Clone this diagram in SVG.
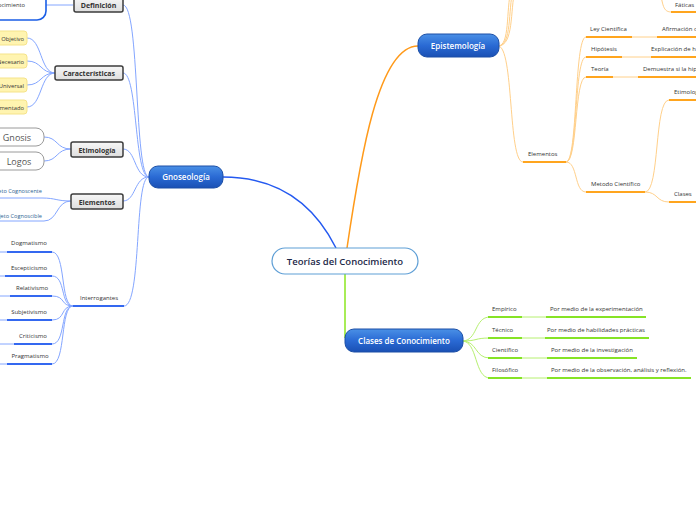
<svg xmlns="http://www.w3.org/2000/svg" width="696" height="520" viewBox="0 0 696 520">
<defs>
<linearGradient id="gBlue" x1="0" y1="0" x2="0" y2="1">
<stop offset="0" stop-color="#4a90e6"/><stop offset="0.5" stop-color="#2a6ad4"/><stop offset="1" stop-color="#1a50b4"/>
</linearGradient>
<linearGradient id="gGrey" x1="0" y1="0" x2="0" y2="1">
<stop offset="0" stop-color="#f7f7f7"/><stop offset="1" stop-color="#dedede"/>
</linearGradient>
<style>
.t{font-family:"Open Sans","Noto Sans","Liberation Sans",sans-serif}
.pill{fill:url(#gBlue);stroke:#1c4fa6;stroke-width:1}
.pt{font-size:8px;fill:#fff;font-weight:600;text-anchor:middle}
.grey{fill:url(#gGrey);stroke:#3c3c3c;stroke-width:1.5}
.gt{font-size:7px;font-weight:700;fill:#333;text-anchor:middle}
.sm{font-size:6px;fill:#333}
.yl{fill:#fff4b0;stroke:#f5e38a;stroke-width:1}
.cb{fill:none;stroke:#84a6ff;stroke-width:1}
.co{fill:none;stroke:#ffd08a;stroke-width:1}
.cg{fill:none;stroke:#b6f070;stroke-width:1}
.ub{stroke:#3468f0;stroke-width:2}
.uo{stroke:#ffa51e;stroke-width:2}
.ug{stroke:#86e326;stroke-width:2}
</style>
</defs>
<rect width="696" height="520" fill="#fff"/>

<g id="connectors">
<path d="M223,177 C285,177 318,212 336,248" fill="none" stroke="#2459f0" stroke-width="1.5"/>
<path d="M347,248 C360,160 378,46 418,46" fill="none" stroke="#ff9a1a" stroke-width="1.5"/>
<path d="M345,274 L345,338" fill="none" stroke="#8be61f" stroke-width="1.5"/>
<path class="cb" d="M149,177 C134,177 140,5 123,5"/>
<path class="cb" d="M149,177 C134,177 138,73 123,73"/>
<path class="cb" d="M149,177 C134,177 136,149 123,149"/>
<path class="cb" d="M149,177 C134,177 136,201 123,201"/>
<path class="cb" d="M149,177 C134,177 142,306 124,306"/>
<path class="cb" d="M46,5 L73,5"/>
<path class="cb" d="M27,38 C42,38 40,73 55,73"/>
<path class="cb" d="M27,61 C42,61 40,73 55,73"/>
<path class="cb" d="M27,85 C42,85 40,73 55,73"/>
<path class="cb" d="M27,107 C42,107 40,73 55,73"/>
<path class="cb" d="M44,137 C58,137 56,149 71,149"/>
<path class="cb" d="M44,161 C58,161 56,149 71,149"/>
<path class="cb" d="M0,198 L42,198 C56,198 56,201 71,201"/>
<path class="cb" d="M0,221 L44,221 C58,221 56,201 71,201"/>
<path class="cb" d="M0,252 L52,252 C66,252 60,306 73,306"/>
<path class="cb" d="M0,276 L52,276 C66,276 60,306 73,306"/>
<path class="cb" d="M0,296 L52,296 C66,296 60,306 73,306"/>
<path class="cb" d="M0,320 L52,320 C66,320 60,306 73,306"/>
<path class="cb" d="M0,344 L52,344 C66,344 60,306 73,306"/>
<path class="cb" d="M0,364 L52,364 C66,364 60,306 73,306"/>
<path class="co" d="M498,46 C510,46 506,10 511,-10"/>
<path class="co" d="M498,46 C512,46 508,10 513,-10"/>
<path class="co" d="M498,46 C514,46 510,10 515,-10"/>
<path class="co" d="M660,-10 C663,8 664,12 672,12"/>
<path class="co" d="M498,46 C514,46 508,162 523,162"/>
<path class="co" d="M566,162 C578,162 574,37 586,37"/>
<path class="co" d="M566,162 C578,162 574,57 586,57"/>
<path class="co" d="M566,162 C578,162 574,77 586,77"/>
<path class="co" d="M566,162 C578,162 574,192 586,192"/>
<path class="co" d="M632,37 L657,37"/>
<path class="co" d="M622,57 L651,57"/>
<path class="co" d="M613,77 L638,77"/>
<path class="co" d="M645,192 C660,192 654,100 669,100"/>
<path class="co" d="M645,192 C658,192 656,202 669,202"/>
<path class="cg" d="M462,341 C478,341 474,317 490,317"/>
<path class="cg" d="M462,341 C478,341 474,338 490,338"/>
<path class="cg" d="M462,341 C478,341 474,358 490,358"/>
<path class="cg" d="M462,341 C478,341 474,378 490,378"/>
<path class="cg" d="M522,317 L546,317"/>
<path class="cg" d="M522,338 L545,338"/>
<path class="cg" d="M522,358 L547,358"/>
<path class="cg" d="M522,378 L547,378"/>
</g>

<g id="center">
<rect x="272" y="248" width="146" height="26" rx="13" fill="#fff" stroke="#5f9fd6" stroke-width="1.2"/>
<text class="t" x="345" y="265" font-size="9.5" font-weight="600" fill="#1d2a4a" text-anchor="middle">Teorías del Conocimiento</text>
</g>

<g id="gnoseologia">
<rect class="pill" x="149" y="166" width="74" height="22" rx="9"/>
<text class="t pt" x="186" y="180">Gnoseología</text>
</g>
<g id="epistemologia">
<rect class="pill" x="418" y="34" width="81" height="23" rx="9"/>
<text class="t pt" x="458" y="49">Epistemología</text>
</g>
<g id="clases">
<rect class="pill" x="345" y="329" width="118" height="23" rx="9"/>
<text class="t pt" x="404" y="344">Clases de Conocimiento</text>
</g>

<g id="definicion">
<rect class="grey" x="74" y="-3" width="49" height="15" rx="2"/>
<text class="t gt" x="98.5" y="8">Definición</text>
</g>
<g id="definicion-texto">
<rect x="-20" y="-12" width="66" height="32" rx="9" fill="#fff" stroke="#1a5ee6" stroke-width="1.6"/>
<text class="t" x="25" y="7" font-size="5.8" fill="#333" text-anchor="end">Conocimiento</text>
</g>
<g id="caracteristicas">
<rect class="grey" x="55" y="66" width="68" height="14" rx="2"/>
<text class="t gt" x="89" y="76">Características</text>
</g>
<g id="objetivo"><rect class="yl" x="-10" y="31" width="37" height="14" rx="3"/><text class="t" x="24" y="41" font-size="5.8" fill="#333" text-anchor="end">Objetivo</text></g>
<g id="necesario"><rect class="yl" x="-10" y="54" width="37" height="14" rx="3"/><text class="t" x="24" y="64" font-size="5.8" fill="#333" text-anchor="end">Necesario</text></g>
<g id="universal"><rect class="yl" x="-10" y="78" width="37" height="14" rx="3"/><text class="t" x="24" y="88" font-size="5.8" fill="#333" text-anchor="end">Universal</text></g>
<g id="fundamentado"><rect class="yl" x="-10" y="100" width="37" height="14" rx="3"/><text class="t" x="24" y="110" font-size="5.8" fill="#333" text-anchor="end">Fundamentado</text></g>

<g id="etimologia">
<rect class="grey" x="71" y="142" width="52" height="15" rx="2"/>
<text class="t gt" x="97" y="152.5">Etimología</text>
</g>
<g id="gnosis"><rect x="-10" y="128" width="54" height="18" rx="8" fill="#fff" stroke="#9a9a9a" stroke-width="1"/><text class="t" x="17" y="140.5" font-size="9" fill="#555" text-anchor="middle">Gnosis</text></g>
<g id="logos"><rect x="-10" y="152" width="54" height="18" rx="8" fill="#fff" stroke="#9a9a9a" stroke-width="1"/><text class="t" x="19" y="164.5" font-size="9" fill="#555" text-anchor="middle">Logos</text></g>

<g id="elementos">
<rect class="grey" x="71" y="194" width="52" height="15" rx="2"/>
<text class="t gt" x="97" y="204.5">Elementos</text>
</g>
<g id="sujeto"><text class="t" x="42" y="193" font-size="5.6" fill="#2d5f92" text-anchor="end">Sujeto Cognoscente</text></g>
<g id="objeto"><text class="t" x="42" y="217.5" font-size="5.6" fill="#2d5f92" text-anchor="end">Objeto Cognoscible</text></g>

<g id="interrogantes">
<text class="t sm" x="80" y="300">Interrogantes</text>
<line class="ub" x1="73" y1="306" x2="124" y2="306"/>
</g>
<g id="dogmatismo"><text class="t sm" x="29" y="245" text-anchor="middle">Dogmatismo</text><line class="ub" x1="7" y1="252" x2="52" y2="252"/></g>
<g id="escepticismo"><text class="t sm" x="29" y="270" text-anchor="middle">Escepticismo</text><line class="ub" x1="5" y1="276" x2="52" y2="276"/></g>
<g id="relativismo"><text class="t sm" x="32" y="290" text-anchor="middle">Relativismo</text><line class="ub" x1="10" y1="296" x2="52" y2="296"/></g>
<g id="subjetivismo"><text class="t sm" x="29" y="313.5" text-anchor="middle">Subjetivismo</text><line class="ub" x1="7" y1="320" x2="52" y2="320"/></g>
<g id="criticismo"><text class="t sm" x="33" y="338" text-anchor="middle">Criticismo</text><line class="ub" x1="14" y1="344" x2="52" y2="344"/></g>
<g id="pragmatismo"><text class="t sm" x="30" y="358" text-anchor="middle">Pragmatismo</text><line class="ub" x1="7" y1="364" x2="52" y2="364"/></g>

<g id="faticas"><text class="t sm" x="675" y="7">Fáticas</text><line class="uo" x1="671" y1="12" x2="696" y2="12"/></g>
<g id="elementos-e"><text class="t sm" x="528" y="156">Elementos</text><line class="uo" x1="523" y1="162" x2="566" y2="162"/></g>
<g id="ley"><text class="t sm" x="590" y="31">Ley Científica</text><line class="uo" x1="586" y1="37" x2="632" y2="37"/></g>
<g id="ley-def"><text class="t sm" x="662" y="31">Afirmación c</text><line class="uo" x1="657" y1="37" x2="696" y2="37"/></g>
<g id="hipotesis"><text class="t sm" x="591" y="51">Hipótesis</text><line class="uo" x1="586" y1="57" x2="622" y2="57"/></g>
<g id="hipotesis-def"><text class="t sm" x="651" y="51">Explicación de h</text><line class="uo" x1="651" y1="57" x2="696" y2="57"/></g>
<g id="teoria"><text class="t sm" x="591" y="71">Teoría</text><line class="uo" x1="586" y1="77" x2="613" y2="77"/></g>
<g id="teoria-def"><text class="t sm" x="643" y="71">Demuestra si la hip</text><line class="uo" x1="638" y1="77" x2="696" y2="77"/></g>
<g id="metodo"><text class="t sm" x="591" y="186">Metodo Científico</text><line class="uo" x1="586" y1="192" x2="645" y2="192"/></g>
<g id="etimologia-e"><text class="t sm" x="674" y="94">Etimología</text><line class="uo" x1="669" y1="100" x2="696" y2="100"/></g>
<g id="clases-e"><text class="t sm" x="674" y="196">Clases</text><line class="uo" x1="669" y1="202" x2="696" y2="202"/></g>

<g id="empirico"><text class="t sm" x="492" y="311">Empírico</text><line class="ug" x1="488" y1="317" x2="522" y2="317"/></g>
<g id="empirico-def"><text class="t sm" x="550" y="311">Por medio de la experimentación</text><line class="ug" x1="546" y1="317" x2="646" y2="317"/></g>
<g id="tecnico"><text class="t sm" x="492" y="332">Técnico</text><line class="ug" x1="488" y1="338" x2="522" y2="338"/></g>
<g id="tecnico-def"><text class="t sm" x="547" y="332">Por medio de habilidades prácticas</text><line class="ug" x1="545" y1="338" x2="649" y2="338"/></g>
<g id="cientifico"><text class="t sm" x="492" y="352">Científico</text><line class="ug" x1="488" y1="358" x2="522" y2="358"/></g>
<g id="cientifico-def"><text class="t sm" x="551" y="352">Por medio de la investigación</text><line class="ug" x1="547" y1="358" x2="637" y2="358"/></g>
<g id="filosofico"><text class="t sm" x="492" y="372">Filosófico</text><line class="ug" x1="488" y1="378" x2="522" y2="378"/></g>
<g id="filosofico-def"><text class="t sm" x="551" y="372">Por medio de la observación, análisis y reflexión.</text><line class="ug" x1="547" y1="378" x2="691" y2="378"/></g>
</svg>
